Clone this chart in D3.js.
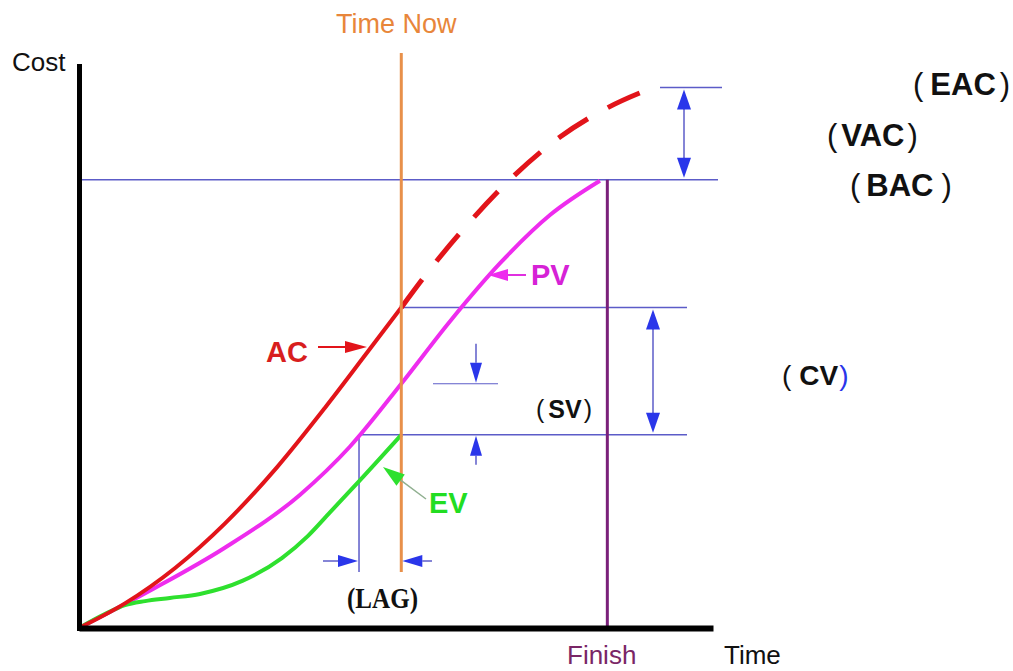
<!DOCTYPE html>
<html>
<head>
<meta charset="utf-8">
<script src="https://cdn.jsdelivr.net/npm/d3@7"></script>
<style>
  body { margin: 0; background: #fff; }
  svg { display: block; }
  .lbl { font-family: "Liberation Sans", Arial, sans-serif; }
</style>
</head>
<body>
<div id="chart"></div>
<script>
// Earned value curves (time units, cost in % of budget)
var pvTime = [0, 1.34, 2.76, 4.18, 5.13, 6.1, 7.02, 7.97, 8.92, 9.86];
var pvCost = [0, 8.3, 17.9, 29.7, 40.5, 54.5, 68.4, 81.4, 92.2, 99.8];

var acTime = [0, 0.87, 1.82, 2.76, 3.75, 4.66, 5.45, 6.1];
var acCost = [0, 5.5, 13.4, 23.3, 35.9, 49.2, 61.4, 71.5];

// forecast of actual cost after time now (dashed)
var fcTime = [6.1, 6.51, 7.27, 8.1, 8.97, 9.99, 10.87];
var fcCost = [71.5, 78.0, 88.9, 99.4, 108.4, 116.0, 120.6];

var evTime = [0, 0.49, 0.87, 1.25, 1.72, 2.29, 3.09, 3.84, 4.33, 4.75, 5.32, 6.1];
var evCost = [0, 3.1, 5.1, 6.0, 6.7, 7.6, 10.5, 15.6, 20.5, 25.8, 33.0, 43.1];

var timeNow = 6.1, finishTime = 10, lagTime = 5.3;
var bac = 100, eac = 120.6;

var W = 1013, H = 671;
var svg = d3.select("#chart").append("svg").attr("width", W).attr("height", H);

var x = d3.scaleLinear().domain([0, 12]).range([79, 713]);
var y = d3.scaleLinear().domain([0, 125.4]).range([628, 66]);

var thin = "#5c5cc8", arrowBlue = "#2a36ea";

function pts(t, c) { return t.map(function(d, i) { return [d, c[i]]; }); }
var line = d3.line()
    .curve(d3.curveMonotoneX)
    .x(function(d) { return x(d[0]); })
    .y(function(d) { return y(d[1]); });

// arrow with filled head at (x2,y2)
function arrow(g, x1, y1, x2, y2, shaft, head, len, half, sw) {
  var a = Math.atan2(y2 - y1, x2 - x1);
  var bx = x2 - len * Math.cos(a), by = y2 - len * Math.sin(a);
  g.append("line")
      .attr("x1", x1).attr("y1", y1).attr("x2", bx).attr("y2", by)
      .attr("stroke", shaft).attr("stroke-width", sw || 1.5);
  var px = -Math.sin(a) * half, py = Math.cos(a) * half;
  g.append("path")
      .attr("d", "M" + x2 + "," + y2 + "L" + (bx + px) + "," + (by + py) + "L" + (bx - px) + "," + (by - py) + "Z")
      .attr("fill", head);
}

var g = svg.append("g");

// reference lines
var acNow = acCost[acCost.length - 1], evNow = evCost[evCost.length - 1], pvNow = pvCost[pvTime.indexOf(timeNow)];
function hline(x1, x2, v, sw) {
  g.append("line").attr("x1", x1).attr("x2", x2).attr("y1", y(v)).attr("y2", y(v))
      .attr("stroke", thin).attr("stroke-width", sw || 1.5);
}
hline(x(0), 718, bac);
hline(660, 722, eac);
hline(x(timeNow), 687, acNow);
hline(x(lagTime), 687, evNow);
hline(433, 498, pvNow, 1.2);
g.append("line").attr("x1", x(lagTime)).attr("x2", x(lagTime)).attr("y1", y(evNow)).attr("y2", 572)
    .attr("stroke", thin).attr("stroke-width", 1.5);

// finish line
g.append("line").attr("x1", x(finishTime)).attr("x2", x(finishTime)).attr("y1", y(bac)).attr("y2", y(0))
    .attr("stroke", "#7a207a").attr("stroke-width", 3);

// curves
g.append("path").datum(pts(pvTime, pvCost)).attr("d", line)
    .attr("fill", "none").attr("stroke", "#ee2cee").attr("stroke-width", 4);
g.append("path").datum(pts(evTime, evCost)).attr("d", line)
    .attr("fill", "none").attr("stroke", "#2ee02e").attr("stroke-width", 4);
g.append("path").datum(pts(acTime, acCost)).attr("d", line)
    .attr("fill", "none").attr("stroke", "#e2141a").attr("stroke-width", 4);
g.append("path").datum(pts(fcTime, fcCost)).attr("d", line)
    .attr("fill", "none").attr("stroke", "#e2141a").attr("stroke-width", 5)
    .attr("stroke-dasharray", "35,23");

// time now line
g.append("line").attr("x1", x(timeNow)).attr("x2", x(timeNow)).attr("y1", 53).attr("y2", 572)
    .attr("stroke", "#e8904a").attr("stroke-width", 3);

// axes
var xAxis = d3.axisBottom(x).tickValues([]).tickSizeOuter(0);
var yAxis = d3.axisLeft(y).tickValues([]).tickSizeOuter(0);
svg.append("g").attr("transform", "translate(0," + y(0) + ")").call(xAxis)
    .select(".domain").attr("stroke", "#000").attr("stroke-width", 6);
svg.append("g").attr("transform", "translate(" + x(0) + ",0)").call(yAxis)
    .select(".domain").attr("stroke", "#000").attr("stroke-width", 5).attr("stroke-linecap", "square");

// dimension arrows
var a = svg.append("g");
function vdim(xp, v1, v2) {
  a.append("line").attr("x1", xp).attr("x2", xp).attr("y1", y(v1) + 15).attr("y2", y(v2) - 15)
      .attr("stroke", thin).attr("stroke-width", 1.5);
  arrow(a, xp, y(v1) + 20, xp, y(v1) + 2, thin, arrowBlue, 20, 7);
  arrow(a, xp, y(v2) - 20, xp, y(v2) - 2, thin, arrowBlue, 20, 7);
}
vdim(684, eac, bac);      // VAC
vdim(653, acNow, evNow);  // CV
// SV
arrow(a, 476, y(pvNow) - 40, 476, y(pvNow) - 1, thin, arrowBlue, 20, 6);
arrow(a, 476, y(evNow) + 30, 476, y(evNow) + 1, thin, arrowBlue, 20, 6);
// LAG
arrow(a, 323, 561, x(lagTime) - 1, 561, thin, arrowBlue, 20, 6);
arrow(a, 432, 561, x(timeNow) + 1, 561, thin, arrowBlue, 20, 6);

// curve label arrows
arrow(a, 318, 347, 367, 347, "#e2141a", "#e2141a", 22, 6, 2);
arrow(a, 526, 275, 488, 275, "#e030e0", "#ee2cee", 20, 6, 2);
arrow(a, 426, 499, 383, 467, "#90b090", "#2ee02e", 22, 7, 1.5);

// text labels
var t = svg.append("g");
t.append("text").attr("class", "lbl").attr("x", 12).attr("y", 71)
    .attr("font-size", 26).attr("fill", "#111").text("Cost");
t.append("text").attr("class", "lbl").attr("x", 336).attr("y", 33)
    .attr("font-size", 27).attr("fill", "#e8863a").text("Time Now");
t.append("text").attr("class", "lbl").attr("x", 567).attr("y", 664)
    .attr("font-size", 26).attr("fill", "#7a2666").text("Finish");
t.append("text").attr("class", "lbl").attr("x", 724).attr("y", 664)
    .attr("font-size", 26).attr("fill", "#111").text("Time");

t.append("text").attr("class", "lbl").attr("x", 266).attr("y", 362)
    .attr("font-size", 29).attr("font-weight", "bold").attr("fill", "#d81e1e").text("AC");
t.append("text").attr("class", "lbl").attr("x", 531).attr("y", 285)
    .attr("font-size", 29).attr("font-weight", "bold").attr("fill", "#d622d6").text("PV");
t.append("text").attr("class", "lbl").attr("x", 429).attr("y", 513)
    .attr("font-size", 29).attr("font-weight", "bold").attr("fill", "#22dd22").text("EV");

function paren(xp, yp, size, label, gapL, gapR, closeColor) {
  var el = t.append("text").attr("class", "lbl").attr("x", xp).attr("y", yp)
      .attr("font-size", size).attr("fill", "#111");
  el.append("tspan").text("(");
  el.append("tspan").attr("dx", gapL).attr("font-weight", "bold").text(label);
  el.append("tspan").attr("dx", gapR).attr("fill", closeColor || "#111").text(")");
}
paren(913, 95, 31, "EAC", 7, 4);
paren(827, 146, 31, "VAC", 4, 3);
paren(850, 196, 31, "BAC", 6, 8);
paren(782, 385, 28, "CV", 8, 1, arrowBlue);
paren(536, 418, 25, "SV", 4, 2);

t.append("text").attr("x", 347).attr("y", 608)
    .attr("font-family", "'Liberation Serif', 'DejaVu Serif', serif")
    .attr("font-weight", "bold").attr("font-size", 30).attr("fill", "#111")
    .attr("textLength", 71).attr("lengthAdjust", "spacingAndGlyphs")
    .text("(LAG)");
</script>
</body>
</html>
